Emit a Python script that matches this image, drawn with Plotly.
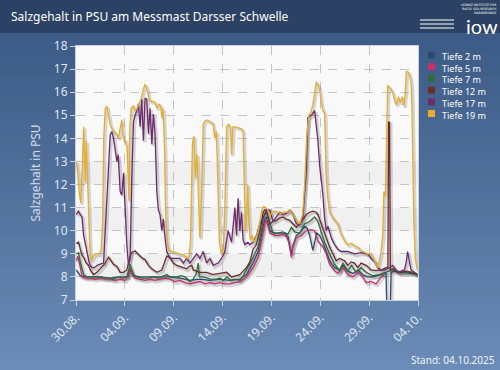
import plotly.graph_objects as go
import pandas as pd

# ---------------- data (days since 30.08.2025, salinity PSU) ----------------
series_names = ["Tiefe 2 m", "Tiefe 5 m", "Tiefe 7 m", "Tiefe 12 m", "Tiefe 17 m", "Tiefe 19 m"]
series_colors = ["#2c4a70", "#c8306a", "#2f6a3c", "#6a2c2c", "#6c2c6c", "#e6ae2c"]

t_2m = [0.03, 0.23, 0.44, 0.95, 1.46, 2.48, 3.50, 4.52, 5.34, 5.54, 5.85, 6.56, 7.58, 8.60, 9.62, 10.64, 11.66, 12.68,
        13.70, 14.72, 15.74, 16.77, 17.45, 18.12, 18.63, 18.98, 19.32, 19.49, 19.62, 19.83, 20.34, 20.85, 21.36, 21.69,
        21.87, 22.04, 22.22, 22.55, 22.89, 23.40, 23.67, 23.91, 24.11, 24.24, 24.42, 24.62, 24.93, 25.27, 25.61, 25.95,
        26.46, 26.97, 27.31, 27.82, 28.33, 28.84, 29.35, 29.83, 30.36, 30.87, 31.38, 31.73, 31.84, 32.14, 32.24, 32.62,
        33.09, 33.60, 34.11, 34.93]
v_2m = [8.3, 8.2, 8.05, 8.0, 8.0, 8.0, 7.95, 8.0, 8.0, 8.3, 8.05, 8.0, 8.0, 8.0, 8.0, 7.95, 7.85, 7.9,
        7.85, 7.9, 7.85, 7.9, 8.1, 8.6, 9.1, 9.8, 10.5, 10.6, 10.4, 10.0, 9.9, 9.9, 9.9, 9.75,
        9.4, 9.0, 9.4, 9.8, 9.9, 10.2, 10.1, 9.8, 9.4, 9.15, 9.5, 9.9, 9.8, 9.5, 9.1, 8.7,
        8.4, 8.3, 8.5, 8.25, 8.15, 8.3, 8.1, 8.0, 8.0, 8.05, 8.1, 8.15, 6.0, 6.0, 8.2, 8.25,
        8.2, 8.2, 8.15, 8.1]

t_5m = [0.03, 0.18, 0.34, 0.49, 0.64, 0.95, 1.46, 1.97, 2.48, 2.99, 3.50, 4.01, 4.52, 5.03, 5.37, 5.54, 5.74, 6.05,
        6.56, 7.07, 7.58, 8.09, 8.60, 9.11, 9.62, 10.13, 10.64, 11.15, 11.66, 12.17, 12.68, 13.19, 13.70, 14.21, 14.72,
        15.23, 15.74, 16.26, 16.77, 17.45, 18.12, 18.63, 18.98, 19.32, 19.49, 19.62, 19.83, 20.34, 20.85, 21.18, 21.53,
        21.77, 21.87, 22.04, 22.22, 22.55, 23.06, 23.57, 24.08, 24.42, 24.76, 25.27, 25.61, 25.95, 26.46, 26.80, 27.31,
        27.82, 28.33, 28.84, 29.35, 29.69, 30.20, 30.71, 31.22, 31.56]
v_5m = [8.7, 8.9, 8.6, 8.2, 8.0, 7.95, 7.95, 7.9, 7.95, 7.9, 7.9, 7.85, 7.9, 7.85, 8.1, 8.4, 8.1, 7.95,
        7.9, 7.85, 7.9, 7.85, 7.9, 7.95, 7.9, 7.8, 7.85, 7.75, 7.7, 7.75, 7.8, 7.7, 7.75, 7.7, 7.75,
        7.7, 7.7, 7.75, 7.8, 8.0, 8.4, 8.85, 9.55, 10.3, 10.45, 10.2, 9.9, 9.8, 9.8, 9.85, 9.75,
        9.5, 9.3, 8.85, 9.3, 9.7, 9.8, 10.0, 10.05, 10.0, 9.55, 9.3, 9.0, 8.55, 8.27, 8.15, 8.4,
        8.1, 8.0, 8.2, 8.0, 7.75, 7.8, 7.7, 8.0, 8.1]

t_7m = [0.03, 0.27, 0.44, 0.61, 0.78, 1.12, 1.46, 1.97, 2.48, 2.99, 3.50, 3.84, 4.32, 4.83, 5.20, 5.39, 5.54, 5.71,
        5.88, 6.22, 6.77, 7.38, 7.92, 8.40, 8.94, 9.29, 9.62, 10.31, 10.74, 11.15, 11.46, 11.66, 11.97, 12.28, 12.51,
        12.63, 13.02, 13.40, 13.81, 14.39, 14.72, 15.06, 15.44, 15.85, 16.26, 16.77, 17.07, 17.28, 17.79, 18.30, 18.63,
        18.98, 19.14, 19.32, 19.49, 19.62, 19.83, 20.16, 20.67, 21.18, 21.69, 22.04, 22.38, 22.89, 23.40, 23.91, 24.16,
        24.42, 24.76, 25.10, 25.44, 25.95, 26.46, 26.97, 27.31, 27.82, 28.19, 28.67, 29.18, 29.69, 30.37, 31.05, 31.73,
        32.41, 33.43, 34.11, 34.93]
v_7m = [9.0, 9.05, 8.6, 8.3, 8.1, 8.0, 8.0, 8.0, 8.0, 7.95, 7.95, 7.9, 8.0, 7.95, 8.0, 8.3, 8.55, 8.3,
        8.1, 8.0, 7.95, 7.95, 8.0, 7.95, 8.05, 8.1, 8.0, 8.0, 8.05, 8.0, 7.9, 7.8, 7.9, 8.1, 8.6,
        8.0, 8.0, 7.95, 7.9, 7.9, 7.95, 7.85, 8.0, 7.85, 7.9, 7.85, 8.0, 8.2, 8.55, 9.0, 9.3,
        10.0, 10.5, 10.7, 10.8, 10.6, 10.3, 9.9, 9.9, 9.95, 9.85, 10.15, 9.95, 9.9, 10.3, 10.4, 10.5,
        10.6, 10.4, 9.9, 9.5, 9.0, 8.55, 8.27, 8.6, 8.25, 8.5, 8.2, 8.4, 8.2, 8.05, 8.1, 8.2,
        8.3, 8.2, 8.2, 8.1]

t_12m = [0.03, 0.27, 0.44, 0.61, 0.78, 1.05, 1.29, 1.46, 1.80, 2.14, 2.48, 2.79, 2.99, 3.33, 3.60, 3.84, 4.18, 4.52,
         4.86, 5.20, 5.37, 5.54, 5.71, 6.05, 6.31, 6.56, 6.82, 7.07, 7.41, 7.76, 8.27, 8.78, 9.11, 9.29, 9.62, 9.96,
         10.31, 10.64, 10.98, 11.33, 11.56, 11.84, 12.00, 12.35, 12.68, 13.37, 14.04, 14.72, 15.41, 15.92, 16.43, 16.77,
         17.10, 17.45, 17.79, 18.12, 18.47, 18.63, 18.81, 18.98, 19.14, 19.32, 19.49, 19.65, 19.83, 20.16, 20.51, 20.85,
         21.18, 21.53, 21.87, 22.20, 22.55, 22.89, 23.22, 23.57, 23.91, 24.24, 24.59, 24.76, 25.10, 25.34, 25.61, 25.95,
         26.29, 26.63, 26.97, 27.48, 27.82, 28.16, 28.50, 28.84, 29.18, 29.69, 30.20, 30.71, 31.22, 31.73, 31.92, 31.99,
         32.09, 32.17, 32.41, 33.09, 33.78, 34.45, 34.93]
v_12m = [9.45, 9.5, 9.2, 8.95, 8.85, 8.6, 8.5, 8.3, 8.1, 8.2, 8.35, 8.5, 8.6, 8.85, 8.7, 8.55, 8.45, 8.2,
         8.2, 8.3, 8.6, 8.9, 9.06, 9.13, 9.0, 8.9, 8.8, 8.75, 8.5, 8.35, 8.2, 8.3, 8.7, 8.9, 8.85, 8.6,
         8.5, 8.45, 8.4, 8.35, 8.45, 8.5, 8.3, 8.25, 8.2, 8.2, 8.1, 8.15, 8.2, 8.0, 8.05, 8.1,
         8.25, 8.4, 8.65, 9.2, 9.4, 9.7, 9.9, 10.3, 10.8, 10.9, 10.9, 10.6, 10.3, 10.4, 10.45, 10.55,
         10.6, 10.5, 10.45, 10.3, 10.15, 10.3, 10.5, 10.7, 10.8, 10.85, 10.8, 10.7, 10.3, 10.0, 9.7, 9.3,
         9.0, 8.7, 8.8, 8.7, 8.5, 8.65, 8.6, 8.4, 8.6, 8.5, 8.3, 8.27, 8.3, 8.4, 8.4, 14.7,
         14.7, 8.3, 8.35, 8.2, 8.25, 8.2, 8.1]

t_17m = [0.03, 0.23, 0.44, 0.61, 0.78, 0.95, 1.12, 1.31, 1.46, 1.66, 1.87, 2.17, 2.48, 2.82, 2.99, 3.16, 3.33, 3.50,
         3.67, 3.84, 4.01, 4.18, 4.32, 4.42, 4.52, 4.69, 4.86, 4.98, 5.08, 5.20, 5.37, 5.54, 5.71, 5.88, 6.05, 6.22,
         6.39, 6.56, 6.73, 6.90, 7.07, 7.24, 7.41, 7.58, 7.76, 7.92, 8.09, 8.27, 8.43, 8.60, 8.78, 8.94, 9.11, 9.29,
         9.62, 10.13, 10.64, 10.98, 11.33, 11.66, 12.00, 12.35, 12.68, 13.02, 13.37, 13.70, 14.04, 14.55, 14.90, 15.23,
         15.57, 15.92, 16.26, 16.43, 16.59, 16.77, 16.94, 17.10, 17.28, 17.58, 17.79, 18.12, 18.47, 18.81, 19.14, 19.49,
         19.83, 20.16, 20.51, 20.85, 21.18, 21.53, 21.87, 22.20, 22.55, 22.89, 23.22, 23.40, 23.57, 23.73, 24.08, 24.42,
         24.59, 24.76, 24.93, 25.10, 25.27, 25.44, 25.61, 25.78, 26.12, 26.46, 26.80, 27.14, 27.82, 28.50, 29.18, 29.86,
         30.20, 30.54, 30.88, 31.22, 31.56, 32.07, 32.41, 32.92, 33.60, 33.78, 33.94, 34.11, 34.29, 34.62, 34.93]
v_17m = [10.7, 10.85, 10.7, 10.6, 9.8, 9.4, 9.1, 8.7, 8.5, 8.4, 8.4, 8.5, 8.55, 8.6, 10.0, 11.6, 13.0, 14.15,
         14.3, 14.0, 13.5, 13.0, 13.3, 12.2, 11.7, 11.55, 12.5, 11.4, 10.2, 9.4, 8.5, 8.8, 12.3, 14.7, 15.0, 15.2,
         15.5, 14.5, 15.7, 13.9, 15.75, 15.7, 14.2, 15.3, 13.75, 15.05, 14.2, 11.7, 10.9, 10.7, 10.0, 10.5, 9.7, 9.1,
         8.8, 8.8, 8.8, 8.6, 8.8, 8.6, 8.8, 9.0, 8.8, 9.1, 8.6, 8.8, 8.5, 8.6, 8.8, 9.1,
         10.0, 9.5, 11.0, 9.8, 11.4, 10.0, 10.8, 9.6, 9.4, 9.5, 9.4, 9.5, 9.8, 10.3, 10.55, 10.9,
         10.9, 10.4, 10.6, 10.8, 10.7, 10.75, 10.9, 10.7, 10.3, 10.25, 10.6, 11.5, 12.6, 14.9, 15.0, 15.2,
         14.6, 13.9, 12.85, 12.3, 11.55, 10.55, 10.0, 10.2, 9.7, 9.4, 9.2, 9.1, 9.1, 9.0, 9.05, 9.0,
         8.8, 8.67, 8.4, 8.3, 8.3, 8.4, 8.5, 8.2, 8.3, 8.6, 9.1, 8.7, 8.3, 8.2, 8.1]

t_19m = [0.03, 0.18, 0.34, 0.49, 0.64, 0.78, 0.88, 0.95, 1.05, 1.15, 1.26, 1.41, 1.56, 1.77, 2.07, 2.38, 2.58, 2.73,
         2.84, 2.99, 3.16, 3.30, 3.50, 3.70, 3.91, 4.11, 4.32, 4.47, 4.69, 4.83, 5.03, 5.23, 5.34, 5.42, 5.51, 5.64,
         5.85, 6.05, 6.26, 6.46, 6.66, 6.87, 7.07, 7.28, 7.48, 7.68, 7.89, 8.09, 8.30, 8.50, 8.65, 8.81, 8.91, 9.06,
         9.16, 9.32, 9.52, 9.83, 10.24, 10.64, 11.05, 11.36, 11.56, 11.71, 11.82, 11.92, 12.07, 12.22, 12.38, 12.53,
         12.68, 12.84, 13.02, 13.19, 13.40, 13.60, 13.81, 14.01, 14.21, 14.37, 14.52, 14.67, 14.88, 15.08, 15.23, 15.41,
         15.59, 15.80, 15.92, 16.05, 16.36, 16.66, 16.97, 17.10, 17.22, 17.33, 17.48, 17.58, 17.68, 17.84, 17.99, 18.19,
         18.40, 18.60, 18.81, 19.01, 19.21, 19.42, 19.62, 19.83, 20.03, 20.34, 20.64, 20.95, 21.26, 21.56, 21.87, 22.17,
         22.48, 22.89, 23.19, 23.40, 23.60, 23.81, 24.01, 24.24, 24.42, 24.59, 24.78, 24.93, 25.08, 25.27, 25.44, 25.59,
         25.74, 25.95, 26.29, 26.56, 26.80, 27.07, 27.31, 27.58, 27.82, 28.19, 28.50, 28.81, 29.11, 29.52, 29.83, 30.20,
         30.54, 30.88, 31.10, 31.22, 31.39, 31.51, 31.66, 31.80, 31.90, 32.07, 32.28, 32.48, 32.63, 32.79, 32.99, 33.19,
         33.40, 33.55, 33.70, 33.81, 34.01, 34.16, 34.29, 34.37, 34.45, 34.57, 34.72, 34.93]
v_19m = [13.0, 12.5, 11.6, 11.2, 12.8, 14.5, 13.2, 12.1, 13.9, 12.5, 10.8, 9.3, 8.7, 8.9, 9.0, 9.0, 9.2, 10.5,
         14.0, 15.3, 15.4, 15.1, 14.6, 14.4, 14.3, 14.2, 14.0, 14.3, 14.8, 14.0, 13.9, 13.6, 12.0, 11.3, 14.5, 15.3,
         15.4, 15.2, 15.3, 15.5, 15.7, 16.1, 16.35, 16.1, 15.7, 15.6, 15.6, 15.55, 15.3, 15.5, 15.4, 14.9, 15.3, 13.5,
         11.0, 9.5, 9.15, 9.1, 9.05, 9.0, 8.95, 8.8, 8.9, 9.5, 11.8, 13.8, 14.1, 12.3, 13.3, 11.5,
         9.7, 11.5, 14.6, 14.75, 14.8, 14.75, 14.7, 14.65, 14.0, 14.3, 12.0, 9.5, 9.0, 9.2, 11.0, 14.5,
         14.6, 14.45, 13.3, 14.5, 14.5, 14.45, 14.4, 14.3, 11.5, 10.0, 10.8, 12.0, 10.5, 9.6, 9.8, 9.5,
         9.7, 9.9, 10.4, 10.9, 11.05, 11.0, 10.9, 10.6, 10.8, 10.85, 10.8, 10.75, 10.8, 10.8, 10.9, 10.7,
         10.5, 10.3, 10.7, 12.0, 14.0, 15.0, 15.1, 15.45, 16.0, 16.45, 16.3, 16.1, 15.6, 15.2, 15.1, 12.5,
         11.5, 10.8, 10.55, 10.4, 10.3, 9.9, 9.7, 9.5, 9.4, 9.45, 9.35, 9.3, 9.15, 9.05, 9.0, 9.0,
         8.7, 8.4, 8.8, 9.1, 9.8, 11.7, 11.5, 14.0, 16.3, 16.2, 16.1, 15.9, 15.6, 15.45, 15.8, 15.55,
         15.8, 15.4, 16.0, 16.9, 16.85, 16.7, 16.4, 15.5, 13.0, 10.5, 8.8, 8.3]

series_t = [t_2m, t_5m, t_7m, t_12m, t_17m, t_19m]
series_v = [v_2m, v_5m, v_7m, v_12m, v_17m, v_19m]

x_tick_days = [0, 5, 10, 15, 20, 25, 30, 35]
y_ticks = [7, 8, 9, 10, 11, 12, 13, 14, 15, 16, 17, 18]
start_date = pd.Timestamp("2025-08-30")
title_text = "Salzgehalt in PSU am Messmast Darsser Schwelle"
y_title = "Salzgehalt in PSU"
stand_text = "Stand: 04.10.2025"

# ---------------- geometry ----------------
W, H = 500, 370
ML, MR, MT, MB = 76, 82, 46, 70
PW, PH = W - ML - MR, H - MT - MB


def px(xp):
    return (xp - ML) / PW


def py(yp):
    return (H - MB - yp) / PH


def to_dates(days):
    return [start_date + pd.Timedelta(days=d) for d in days]


fig = go.Figure()

# shadows
for t, v in zip(series_t, series_v):
    fig.add_trace(go.Scatter(
        x=to_dates([d + 0.15 for d in t]), y=[val - 0.08 for val in v], mode="lines",
        line=dict(color="rgba(0,0,0,0.15)", width=3), hoverinfo="skip", showlegend=False))

# series
for name, col, t, v in zip(series_names, series_colors, series_t, series_v):
    fig.add_trace(go.Scatter(x=to_dates(t), y=v, mode="lines", name=name,
                             line=dict(color=col, width=1.3), showlegend=False))

shapes = []
# background gradient
top_c = (0x3c, 0x5b, 0x86)
bot_c = (0x6b, 0x8c, 0xb6)
n = 40
y0p, y1p = 33, H
for i in range(n):
    f = i / (n - 1)
    c = tuple(int(top_c[k] + (bot_c[k] - top_c[k]) * f) for k in range(3))
    ya = y0p + (y1p - y0p) * i / n
    yb = y0p + (y1p - y0p) * (i + 1) / n + 1
    shapes.append(dict(type="rect", xref="paper", yref="paper", x0=px(0), x1=px(W), y0=py(yb), y1=py(ya),
                       fillcolor="rgb(%d,%d,%d)" % c, line=dict(width=0), layer="below"))
# title bar
shapes.append(dict(type="rect", xref="paper", yref="paper", x0=px(0), x1=px(W), y0=py(33), y1=py(0),
                   fillcolor="#2c4264", line=dict(width=0), layer="below"))
# plot area
shapes.append(dict(type="rect", xref="paper", yref="paper", x0=0, x1=1, y0=0, y1=1,
                   fillcolor="#f9f9f9", line=dict(width=0), layer="below"))
for lo in [8, 10, 12]:
    shapes.append(dict(type="rect", xref="paper", yref="y", x0=0, x1=1, y0=lo, y1=lo + 1,
                       fillcolor="#f0f0f0", line=dict(width=0), layer="below"))

annotations = [
    dict(text=title_text, x=px(9), y=py(17), xref="paper", yref="paper", xanchor="left", yanchor="middle",
         showarrow=False, font=dict(family="Noto Sans", size=12, color="white")),
    dict(text=stand_text, x=px(497), y=py(360), xref="paper", yref="paper", xanchor="right", yanchor="middle",
         showarrow=False, font=dict(family="Noto Sans", size=10, color="#eef2f8")),
    dict(text="iow", x=px(500), y=py(26), xref="paper", yref="paper", xanchor="right", yanchor="middle",
         showarrow=False, font=dict(family="Lato", size=20, color="white")),
    dict(text="LEIBNIZ INSTITUTE FOR<br>BALTIC SEA RESEARCH<br>WARNEMÜNDE", x=px(498), y=py(1),
         xref="paper", yref="paper", xanchor="right", yanchor="top", align="right",
         showarrow=False, font=dict(family="DejaVu Sans", size=3, color="white")),
]
# simple logo strokes
for yy in [20, 24, 28]:
    shapes.append(dict(type="line", xref="paper", yref="paper", x0=px(420), x1=px(454), y0=py(yy), y1=py(yy),
                       line=dict(color="white", width=1)))

# custom legend: colour squares + one multi-line text block
leg_y0, leg_dy, leg_fs = 55, 11.7, 9
for i, col in enumerate(series_colors):
    yc = leg_y0 + i * leg_dy
    shapes.append(dict(type="rect", xref="paper", yref="paper", x0=px(428), x1=px(435), y0=py(yc + 3.5),
                       y1=py(yc - 3.5), fillcolor=col, line=dict(width=0)))
annotations.append(dict(text="<br>".join(series_names), x=px(441), y=py(leg_y0 - leg_dy / 2),
                        xref="paper", yref="paper", xanchor="left", yanchor="top", align="left",
                        showarrow=False, borderpad=0,
                        font=dict(family="Noto Sans", size=leg_fs, color="white")))

fig.update_layout(
    width=W, height=H,
    margin=dict(l=ML, r=MR, t=MT, b=MB, pad=0),
    paper_bgcolor="#4a6a95",
    plot_bgcolor="rgba(0,0,0,0)",
    shapes=shapes,
    annotations=annotations,
    showlegend=False,
    font=dict(family="Noto Sans"),
)

fig.update_xaxes(
    type="date", range=[start_date, start_date + pd.Timedelta(days=35)],
    tickvals=to_dates(x_tick_days), tickformat="%d.%m.", tickangle=-45,
    showgrid=True, gridcolor="#c4c4c4", griddash="dash", gridwidth=1,
    showline=True, linecolor="#c9d2de", mirror=True, linewidth=1,
    ticks="outside", ticklen=5, tickcolor="#c9d2de",
    tickfont=dict(family="Noto Sans", size=12, color="#dfe6ef"), zeroline=False,
)
fig.update_yaxes(
    range=[7, 18], tickvals=y_ticks,
    showgrid=True, gridcolor="#c4c4c4", griddash="dash", gridwidth=1,
    showline=True, linecolor="#c9d2de", mirror=True, linewidth=1,
    ticks="outside", ticklen=5, tickcolor="#c9d2de",
    tickfont=dict(family="Noto Sans", size=12, color="#dfe6ef"), zeroline=False,
    title=dict(text=y_title, font=dict(family="Noto Sans", size=12, color="#d4dde9"), standoff=10),
)

fig.write_html("out.html", config={"displayModeBar": False},
               post_script="document.body.style.margin='0';document.body.style.overflow='hidden';")
